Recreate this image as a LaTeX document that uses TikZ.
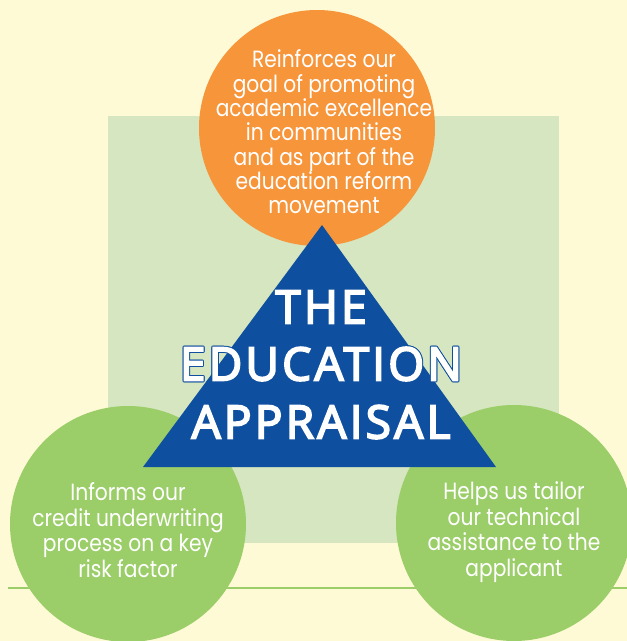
\documentclass[tikz,border=0pt]{standalone}
\usepackage{fontspec}
\setmainfont{Poppins}[FakeStretch=0.86]
\newfontfamily\titlefont{Open Sans}[LetterSpace=7, FakeBold=4]
\usetikzlibrary{positioning}
\definecolor{apcream}{HTML}{FFFAD6}
\definecolor{apsage}{HTML}{D5E6C0}
\definecolor{aporange}{HTML}{F7953B}
\definecolor{apblue}{HTML}{0E4FA0}
\definecolor{apgreen}{HTML}{9BCE69}

\begin{document}
\begin{tikzpicture}[x=1pt,y=-1pt, every node/.style={text=white, align=center, inner sep=0pt},
  blurb/.style={font=\fontsize{23.5}{25.5}\selectfont},
  disc/.style={circle, minimum size=2*\r pt},
  title/.style={font=\titlefont\fontsize{46}{46}\selectfont}]
\def\r{118}
\fill[apcream] (0,0) rectangle (627,641);
\useasboundingbox (0,0) rectangle (627,641);
\fill[apsage] (108,116) rectangle (559,543);
\draw[apgreen, line width=2.5pt] (8,588) -- (627,588);
\node[disc, fill=apgreen] (risk) at (128,524) {};
\node[disc, fill=apgreen] (help) at (514,523) {};
\node[disc, fill=aporange] (goal) at (317,128) {};
\fill[apblue] (322,225) -- (496,467) -- (143,467) -- cycle;
\node[blurb, font=\fontsize{23.5}{24.3}\selectfont] (goaltext) at (324,132) {Reinforces our\\goal of promoting\\academic excellence\\in communities\\and as part of the\\education reform\\movement};
\node[blurb] (risktext) at (128,530) {Informs our\\credit underwriting\\process on a key\\risk factor};
\node[blurb] (helptext) at (514,532) {Helps us tailor\\our technical\\assistance to the\\applicant};
\node[title] (the) at (321,307) {THE};
\foreach \dx/\dy in {-1/0,1/0,0/-1,0/1,-.7/-.7,.7/-.7,-.7/.7,.7/.7}
  \node[title, text=apblue, xshift=\dx pt, yshift=\dy pt] at (321,364) {EDUCATION};
\node[title] (edu) at (321,364) {EDUCATION};
\node[title] (appraisal) at (321,422) {APPRAISAL};
\end{tikzpicture}
\end{document}
